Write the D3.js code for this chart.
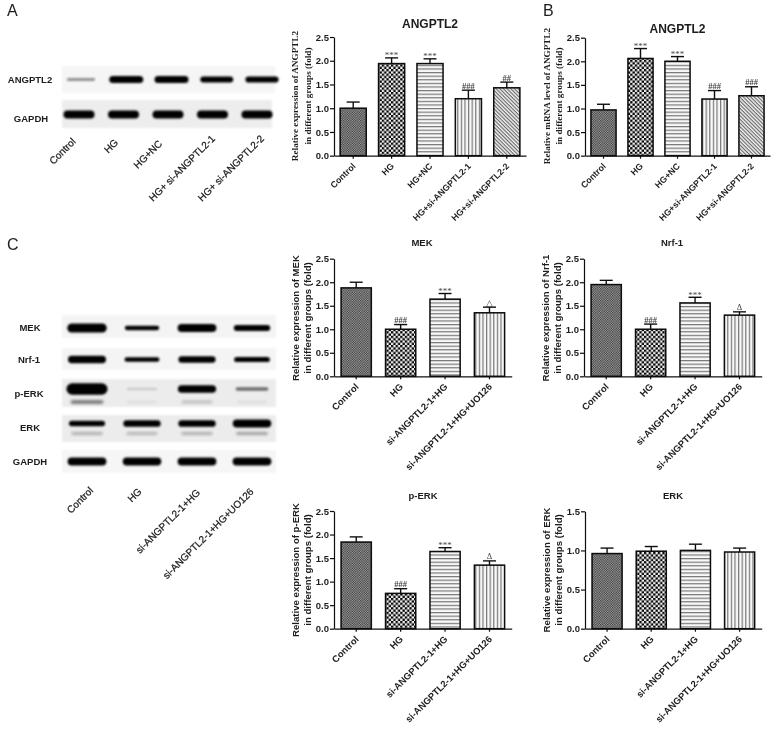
<!DOCTYPE html>
<html>
<head>
<meta charset="utf-8">
<title>ANGPTL2</title>
<script src="https://cdnjs.cloudflare.com/ajax/libs/d3/7.8.5/d3.min.js"></script>
<style>
  html, body { margin: 0; padding: 0; background: #fff; }
  svg { display: block; }
  text { font-family: "Liberation Sans", Arial, sans-serif; fill: #1c1c1c; }
  .serif { font-family: "Liberation Serif", "Times New Roman", serif; }
  .lane { stroke: #1c1c1c; stroke-width: 0.25; }
</style>
</head>
<body>
<script>
// Categories
const groupsAB = ["Control", "HG", "HG+NC", "HG+si-ANGPTL2-1", "HG+si-ANGPTL2-2"];
const groupsC = ["Control", "HG", "si-ANGPTL2-1+HG", "si-ANGPTL2-1+HG+UO126"];
const blotLanesA = ["Control", "HG", "HG+NC", "HG+ si-ANGPTL2-1", "HG+ si-ANGPTL2-2"];

// Bar heights and the top of each error bar
const proteinMeans = [1.0, 1.94, 1.94, 1.20, 1.43];
const proteinTops = [1.13, 2.06, 2.04, 1.38, 1.55];
const proteinMarks = ["", "***", "***", "###", "##"];

const mrnaMeans = [0.97, 2.06, 2.0, 1.20, 1.27];
const mrnaTops = [1.09, 2.27, 2.10, 1.38, 1.46];
const mrnaMarks = ["", "***", "***", "###", "###"];

const mekMeans = [1.88, 1.0, 1.64, 1.35];
const mekTops = [2.0, 1.10, 1.76, 1.47];
const mekMarks = ["", "###", "***", "△"];

const nrfMeans = [1.95, 1.0, 1.56, 1.30];
const nrfTops = [2.04, 1.11, 1.68, 1.37];
const nrfMarks = ["", "###", "***", "Δ"];

const perkMeans = [1.84, 0.75, 1.64, 1.35];
const perkTops = [1.95, 0.85, 1.72, 1.44];
const perkMarks = ["", "###", "***", "Δ"];

const erkMeans = [0.96, 0.99, 1.0, 0.98];
const erkTops = [1.03, 1.05, 1.08, 1.03];
const erkMarks = ["", "", "", ""];

const ticks25 = [0, 0.5, 1.0, 1.5, 2.0, 2.5];
const ticks15 = [0, 0.5, 1.0, 1.5];

// Blot band strength per lane (0 = nothing, 1 = full band)
const angptl2Bands = [0.12, 1, 1, 0.75, 0.8];
const gapdhBandsA = [1, 1, 1, 1, 1];
const mekBands = [1.1, 0.3, 0.95, 0.55];
const nrfBands = [0.8, 0.35, 0.65, 0.45];
const perkBands = [1.5, 0.04, 0.85, 0.16];
const perkLowerBands = [0.16, 0.02, 0.06, 0.02];
const erkBands = [0.5, 0.7, 0.7, 0.9];
const erkLowerBands = [0.08, 0.07, 0.08, 0.1];
const gapdhBandsC = [0.95, 0.9, 0.95, 0.95];

let svg = d3.select("body").append("svg")
            .attr("width", 777)
            .attr("height", 730)
            .attr("viewBox", "0 0 777 730");

let defs = svg.append("defs");

makeFilters();
makePatterns();

let soft = svg.append("g").attr("filter", "url(#soften)");

// Panel letters
soft.append("text").attr("x", 7).attr("y", 16).attr("font-size", 16).text("A");
soft.append("text").attr("x", 543).attr("y", 16).attr("font-size", 16).text("B");
soft.append("text").attr("x", 7).attr("y", 250).attr("font-size", 16).text("C");

drawBlots();

drawBarChart({ x0: 334, x1: 526, y0: 155.7, y1: 37, max: 2.5, ticks: ticks25,
    groups: groupsAB, means: proteinMeans, tops: proteinTops, marks: proteinMarks,
    title: "ANGPTL2", titleX: 430, titleY: 28, titleSize: 12,
    yLabel: ["Relative expression of  ANGPTL2", "in different groups (fold)"],
    labelX: [298, 310.5], labelY: 96, serif: true, tickFont: 8.8 });

drawBarChart({ x0: 585, x1: 770, y0: 155.7, y1: 37.7, max: 2.5, ticks: ticks25,
    groups: groupsAB, means: mrnaMeans, tops: mrnaTops, marks: mrnaMarks,
    title: "ANGPTL2", titleX: 677.5, titleY: 33, titleSize: 12,
    yLabel: ["Relative mRNA level of ANGPTL2", "in different groups (fold)"],
    labelX: [550, 562], labelY: 96, serif: true, tickFont: 8.8 });

drawBarChart({ x0: 334, x1: 511.7, y0: 376.3, y1: 258.7, max: 2.5, ticks: ticks25,
    groups: groupsC, means: mekMeans, tops: mekTops, marks: mekMarks,
    title: "MEK", titleX: 422, titleY: 245.5, titleSize: 9.5,
    yLabel: ["Relative expression of MEK", "in different groups (fold)"],
    labelX: [299, 311], labelY: 318, tickFont: 9.4 });

drawBarChart({ x0: 584, x1: 761.7, y0: 376.3, y1: 258.7, max: 2.5, ticks: ticks25,
    groups: groupsC, means: nrfMeans, tops: nrfTops, marks: nrfMarks,
    title: "Nrf-1", titleX: 672, titleY: 245.5, titleSize: 9.5,
    yLabel: ["Relative expression of Nrf-1", "in different groups (fold)"],
    labelX: [549, 561], labelY: 318, tickFont: 9.4 });

drawBarChart({ x0: 334, x1: 511.7, y0: 628.7, y1: 511, max: 2.5, ticks: ticks25,
    groups: groupsC, means: perkMeans, tops: perkTops, marks: perkMarks,
    title: "p-ERK", titleX: 423, titleY: 498.5, titleSize: 9.5,
    yLabel: ["Relative expression of p-ERK", "in different groups (fold)"],
    labelX: [299, 311], labelY: 570, tickFont: 9.4 });

drawBarChart({ x0: 585, x1: 761.7, y0: 628.7, y1: 511.3, max: 1.5, ticks: ticks15,
    groups: groupsC, means: erkMeans, tops: erkTops, marks: erkMarks,
    title: "ERK", titleX: 673, titleY: 498.5, titleSize: 9.5,
    yLabel: ["Relative expression of ERK", "in different groups (fold)"],
    labelX: [550, 562], labelY: 570, tickFont: 9.4 });

// Slight blur so the drawing has the soft look of the scanned figure
function makeFilters() {
    defs.append("filter").attr("id", "soften")
        .attr("x", "-2%").attr("y", "-2%").attr("width", "104%").attr("height", "104%")
        .append("feGaussianBlur").attr("stdDeviation", 0.35);

    defs.append("filter").attr("id", "band")
        .attr("x", "-30%").attr("y", "-100%").attr("width", "160%").attr("height", "300%")
        .append("feGaussianBlur").attr("stdDeviation", 0.9);

    defs.append("filter").attr("id", "smear")
        .attr("x", "-30%").attr("y", "-200%").attr("width", "160%").attr("height", "500%")
        .append("feGaussianBlur").attr("stdDeviation", 1.6);
}

// One fill pattern per treatment group
function makePatterns() {
    let control = addPattern("fillControl", 2.4, 2.4, "#a8a8a8");
    control.append("rect").attr("width", 1.2).attr("height", 1.2).attr("fill", "#333");
    control.append("rect").attr("x", 1.2).attr("y", 1.2).attr("width", 1.2).attr("height", 1.2).attr("fill", "#333");

    let checks = addPattern("fillChecks", 4.6, 4.6, "#f4f4f4");
    checks.append("rect").attr("width", 2.3).attr("height", 2.3).attr("fill", "#050505");
    checks.append("rect").attr("x", 2.3).attr("y", 2.3).attr("width", 2.3).attr("height", 2.3).attr("fill", "#050505");

    let horizontal = addPattern("fillHorizontal", 4, 3.6, "#f8f8f8");
    horizontal.append("rect").attr("width", 4).attr("height", 1.2).attr("fill", "#777");

    let vertical = addPattern("fillVertical", 3.6, 4, "#f8f8f8");
    vertical.append("rect").attr("width", 1.2).attr("height", 4).attr("fill", "#777");

    let diagonal = addPattern("fillDiagonal", 2.6, 2.6, "#f0f0f0");
    diagonal.attr("patternTransform", "rotate(45)");
    diagonal.append("rect").attr("width", 2.6).attr("height", 1.1).attr("fill", "#666");
}

function addPattern(id, w, h, background) {
    let pattern = defs.append("pattern")
        .attr("id", id)
        .attr("patternUnits", "userSpaceOnUse")
        .attr("width", w)
        .attr("height", h);
    pattern.append("rect").attr("width", w).attr("height", h).attr("fill", background);
    return pattern;
}

function fillFor(i) {
    let five = ["fillControl", "fillChecks", "fillHorizontal", "fillVertical", "fillDiagonal"];
    return `url(#${five[i]})`;
}

// Draws one bar chart with its axes, error bars and significance marks
function drawBarChart(o) {
    let g = soft.append("g");

    let x = d3.scaleBand()
        .domain(o.groups)
        .range([o.x0, o.x1])
        .paddingInner(0.32)
        .paddingOuter(0.16);

    let y = d3.scaleLinear()
        .domain([0, o.max])
        .range([o.y0, o.y1]);

    let rows = o.groups.map((name, i) => ({
        name: name, i: i, mean: o.means[i], top: o.tops[i], mark: o.marks[i]
    }));

    // Error bars go behind the bars
    g.selectAll(".err")
        .data(rows).enter().append("line")
        .attr("x1", d => x(d.name) + x.bandwidth() / 2)
        .attr("x2", d => x(d.name) + x.bandwidth() / 2)
        .attr("y1", d => y(d.mean))
        .attr("y2", d => y(d.top))
        .attr("stroke", "#111").attr("stroke-width", 1.4);

    g.selectAll(".cap")
        .data(rows).enter().append("line")
        .attr("x1", d => x(d.name) + x.bandwidth() / 2 - 6.5)
        .attr("x2", d => x(d.name) + x.bandwidth() / 2 + 6.5)
        .attr("y1", d => y(d.top))
        .attr("y2", d => y(d.top))
        .attr("stroke", "#111").attr("stroke-width", 1.4);

    g.selectAll(".bar")
        .data(rows).enter().append("rect")
        .attr("x", d => x(d.name))
        .attr("y", d => y(d.mean))
        .attr("width", x.bandwidth())
        .attr("height", d => y(0) - y(d.mean))
        .attr("fill", d => fillFor(d.i))
        .attr("stroke", "#0a0a0a")
        .attr("stroke-width", 1.5);

    g.selectAll(".mark")
        .data(rows.filter(d => d.mark)).enter().append("text")
        .attr("class", "serif")
        .attr("x", d => x(d.name) + x.bandwidth() / 2)
        .attr("y", d => y(d.top) - (d.mark === "***" ? -0.5 : 1.5))
        .attr("text-anchor", "middle")
        .attr("font-size", d => d.mark === "***" ? 9 : 8.5)
        .attr("font-weight", d => d.mark[0] === "#" ? "bold" : "normal")
        .style("fill", "#444")
        .text(d => d.mark);

    // Axes
    let yAxis = g.append("g")
        .attr("transform", `translate(${o.x0},0)`)
        .call(d3.axisLeft(y).tickValues(o.ticks).tickFormat(d3.format(".1f")).tickSize(4).tickSizeOuter(0));

    let xAxis = g.append("g")
        .attr("transform", `translate(0,${o.y0})`)
        .call(d3.axisBottom(x).tickSize(3).tickSizeOuter(0));

    g.selectAll(".domain, .tick line").attr("stroke", "#111").attr("stroke-width", 1.2);

    yAxis.attr("font-family", null).attr("font-size", null);
    yAxis.selectAll("text")
        .attr("x", -5)
        .attr("font-size", 9.5).attr("font-weight", "bold");

    xAxis.attr("font-family", null).attr("font-size", null);
    xAxis.selectAll("text")
        .attr("font-size", o.tickFont)
        .attr("font-weight", "bold")
        .attr("text-anchor", "end")
        .attr("x", 0).attr("y", 0).attr("dy", "0.32em")
        .attr("transform", "translate(1,9) rotate(-45)");

    // Title and the two line y label
    g.append("text")
        .attr("x", o.titleX).attr("y", o.titleY)
        .attr("text-anchor", "middle")
        .attr("font-size", o.titleSize).attr("font-weight", "bold")
        .text(o.title);

    o.yLabel.forEach((line, i) => {
        g.append("text")
            .attr("class", o.serif ? "serif" : null)
            .attr("transform", `translate(${o.labelX[i]},${o.labelY}) rotate(-90)`)
            .attr("text-anchor", "middle")
            .attr("font-size", o.serif ? 9.2 : 9.6)
            .attr("font-weight", "bold")
            .text(line);
    });
}

// Draws the western blot strips on the left
function drawBlots() {
    let g = svg.append("g");

    let lanesA = d3.scalePoint().domain(blotLanesA).range([81, 262]);
    let lanesA2 = d3.scalePoint().domain(blotLanesA).range([79, 257]);
    let lanesC = d3.scalePoint().domain(groupsC).range([87, 252]);

    let sizeA = { w: [24, 34], h: [2.4, 7.2] };
    let sizeC = { w: [27, 39], h: [2.5, 8.5] };

    drawStrip(g, "ANGPTL2", 66, 93, 62, 275, [[79.5]], [angptl2Bands], lanesA, blotLanesA, sizeA, "#f5f5f5", 79.5, 30);
    drawStrip(g, "GAPDH", 100, 128, 62, 272, [[114.5]], [gapdhBandsA], lanesA2, blotLanesA, { w: [24, 31], h: [2, 8] }, "#ededed", 118.5, 31);

    drawStrip(g, "MEK", 315, 338, 62, 276, [[328]], [mekBands], lanesC, groupsC, sizeC, "#f4f4f4", 327.5, 30);
    drawStrip(g, "Nrf-1", 348, 370, 62, 276, [[359.5]], [nrfBands], lanesC, groupsC, sizeC, "#f4f4f4", 359.5, 29);
    drawStrip(g, "p-ERK", 379, 407, 62, 276, [[389], [402]], [perkBands, perkLowerBands], lanesC, groupsC, sizeC, "#ececec", 394, 29);
    drawStrip(g, "ERK", 415, 442, 62, 276, [[423.5], [433.5]], [erkBands, erkLowerBands], lanesC, groupsC, sizeC, "#ececec", 427.5, 30);
    drawStrip(g, "GAPDH", 450, 473, 62, 276, [[461.5]], [gapdhBandsC], lanesC, groupsC, sizeC, "#f6f6f6", 461.5, 30);

    // Rotated lane names under each blot
    g.selectAll(".laneA")
        .data(blotLanesA).enter().append("text")
        .attr("class", "lane")
        .attr("transform", (d, i) => `translate(${[74, 116.5, 160.5, 213.5, 262.5][i]},${[140, 141, 142, 137, 137][i]}) rotate(-45)`)
        .attr("text-anchor", "end")
        .attr("font-size", 10)
        .attr("dy", "0.32em")
        .text(d => d);

    g.selectAll(".laneC")
        .data(groupsC).enter().append("text")
        .attr("class", "lane")
        .attr("transform", (d, i) => `translate(${[91.5, 140, 198.5, 252][i]},${[489, 490, 491, 490][i]}) rotate(-45)`)
        .attr("text-anchor", "end")
        .attr("font-size", 10)
        .attr("dy", "0.32em")
        .text(d => d);
}

function drawStrip(parent, name, top, bottom, left, right, bandY, bandRows, lanes, laneNames, size, background, labelY, labelX) {
    parent.append("rect")
        .attr("x", left).attr("y", top)
        .attr("width", right - left).attr("height", bottom - top)
        .attr("fill", background)
        .attr("filter", "url(#band)");

    let width = d3.scalePow().exponent(0.4).domain([0, 1]).range(size.w);
    let height = d3.scaleLinear().domain([0, 1]).range(size.h);
    let shade = d3.scaleLinear().domain([0, 0.3]).range([0, 1]).clamp(true);

    bandRows.forEach((row, r) => {
        parent.selectAll(null)
            .data(row).enter().append("rect")
            .attr("x", (d, i) => lanes(laneNames[i]) - width(d) / 2)
            .attr("y", d => bandY[r][0] - height(d) / 2)
            .attr("width", d => width(d))
            .attr("height", d => height(d))
            .attr("rx", d => height(d) / 2)
            .attr("fill", "#000")
            .attr("opacity", d => shade(d))
            .attr("filter", r === 0 ? "url(#band)" : "url(#smear)");
    });

    parent.append("text")
        .attr("x", labelX).attr("y", labelY)
        .attr("dy", "0.35em")
        .attr("text-anchor", "middle")
        .attr("font-size", 9.5)
        .attr("font-weight", "bold")
        .text(name);
}
</script>
</body>
</html>
